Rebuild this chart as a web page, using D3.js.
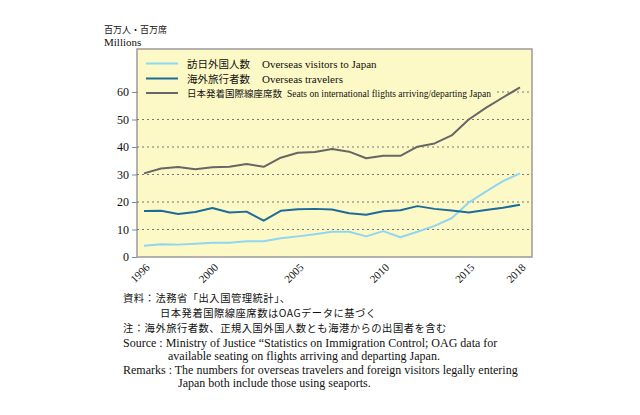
<!DOCTYPE html>
<html><head><meta charset="utf-8">
<script src="https://cdn.jsdelivr.net/npm/d3@7"></script>
<style>body{margin:0;background:#fff}svg{display:block}</style>
</head><body>
<script>
const years = d3.range(1996, 2019);
const visitors = [4.1,4.6,4.5,4.8,5.2,5.2,5.7,5.7,6.8,7.5,8.3,9.2,9.2,7.5,9.4,7.2,9.2,11.3,14.1,19.8,23.8,27.6,30.4];
const travelers = [16.7,16.8,15.6,16.4,17.8,16.2,16.5,13.2,16.8,17.4,17.5,17.3,15.9,15.4,16.6,17.0,18.5,17.5,16.9,16.2,17.1,17.9,19.0];
const seats = [30.4,32.2,32.7,31.9,32.6,32.8,33.8,32.8,36.1,37.9,38.2,39.3,38.3,35.9,36.8,36.8,40.1,41.3,44.2,50.0,54.2,58.0,61.7];
const yTicks = [0,10,20,30,40,50,60];
const xTicks = [1996,2000,2005,2010,2015,2018];
const seriesNamesJa = ["訪日外国人数","海外旅行者数","日本発着国際線座席数"];
const seriesNamesEn = ["Overseas visitors to Japan","Overseas travelers","Seats on international flights arriving/departing Japan"];
const colors = ["#8fd6f2","#1b6c9b","#666666"];
const notesJa = ["資料：法務省「出入国管理統計」、","日本発着国際線座席数はOAGデータに基づく","注：海外旅行者数、正規入国外国人数とも海港からの出国者を含む"];
const notesEn = ["Source : Ministry of Justice “Statistics on Immigration Control; OAG data for","available seating on flights arriving and departing Japan.","Remarks : The numbers for overseas travelers and foreign visitors legally entering","Japan both include those using seaports."];

const W = 640, H = 415;
const svg = d3.select("body").append("svg").attr("width", W).attr("height", H);
const serif = "'Liberation Serif','Times New Roman',serif";
const ja = "'Noto Sans CJK JP',sans-serif";

const plot = {l:137, r:532, t:49, b:257};
const x = d3.scaleLinear().domain([1996, 2018]).range([144, 520]);
const y = d3.scaleLinear().domain([0, 60]).range([257, 92]);

svg.append("rect").attr("x", plot.l).attr("y", plot.t).attr("width", plot.r-plot.l).attr("height", plot.b-plot.t)
  .attr("fill", "#fdf9c6").attr("stroke", "#9a9a9a").attr("stroke-width", 1.5);

// grid
svg.append("g").selectAll("line").data(yTicks.filter(d => d > 0)).join("line")
  .attr("x1", plot.l).attr("x2", plot.r).attr("y1", d => y(d)).attr("y2", d => y(d))
  .attr("stroke", "#777").attr("stroke-width", 1.2).attr("stroke-dasharray", "2,3");

// y axis
const yAxis = d3.axisLeft(y).tickValues(yTicks).tickSize(5).tickPadding(3).tickFormat(d3.format("d"));
const ya = svg.append("g").attr("transform", `translate(${plot.l},0)`).call(yAxis);
ya.select(".domain").remove();
ya.selectAll("line").attr("stroke", "#888");
ya.selectAll("text").attr("font-family", serif).attr("font-size", 12).attr("fill", "#111");

// x axis
const xAxis = d3.axisBottom(x).tickValues(xTicks).tickSize(0).tickFormat(d3.format("d"));
const xa = svg.append("g").attr("transform", `translate(0,${plot.b})`).call(xAxis);
xa.select(".domain").remove();
xa.selectAll("text").attr("font-family", serif).attr("font-size", 11).attr("fill", "#111")
  .attr("text-anchor", "end").attr("dy", null).attr("y", null)
  .attr("transform", "translate(6,11) rotate(-45)");

// legend background
svg.append("rect").attr("x", plot.l+1).attr("y", 52).attr("width", 358).attr("height", 47).attr("fill", "#fdf9c6");

// lines
const data = [visitors, travelers, seats];
const line = d3.line().x((d,i) => x(years[i])).y(d => y(d));
svg.append("g").selectAll("path").data(data).join("path")
  .attr("d", line).attr("fill", "none").attr("stroke", (d,i) => colors[i]).attr("stroke-width", 2).attr("stroke-linejoin", "round");

// legend
const legY = [63.5, 78.5, 93];
const lg = svg.append("g");
seriesNamesJa.forEach((n, i) => {
  lg.append("line").attr("x1", 146).attr("x2", 178).attr("y1", legY[i]).attr("y2", legY[i])
    .attr("stroke", colors[i]).attr("stroke-width", 2);
  const small = i === 2;
  lg.append("text").attr("x", 187).attr("y", legY[i] + 4).attr("font-family", ja)
    .attr("font-size", small ? 9.5 : 10.5).attr("fill", "#111").text(n);
  lg.append("text").attr("x", small ? 287 : 262).attr("y", legY[i] + 4).attr("font-family", serif)
    .attr("font-size", small ? 9.5 : 11).attr("fill", "#111").text(seriesNamesEn[i]);
});

// units
svg.append("text").attr("x", 104).attr("y", 32.5).attr("font-family", ja).attr("font-size", 9).attr("fill", "#111").text("百万人・百万席");
svg.append("text").attr("x", 104).attr("y", 45.5).attr("font-family", serif).attr("font-size", 11).attr("fill", "#111").text("Millions");

// notes
const nj = [[123,302],[160,317],[123,332]];
notesJa.forEach((t,i) => svg.append("text").attr("x", nj[i][0]).attr("y", nj[i][1]).attr("font-family", ja)
  .attr("font-size", 10.3).attr("letter-spacing", 0.5).attr("fill", "#111").text(t));
const ne = [[123,346.5],[168,360],[123,373.5],[178,387]];
notesEn.forEach((t,i) => svg.append("text").attr("x", ne[i][0]).attr("y", ne[i][1]).attr("font-family", serif)
  .attr("font-size", 12).attr("fill", "#111").text(t));
</script>
</body></html>
